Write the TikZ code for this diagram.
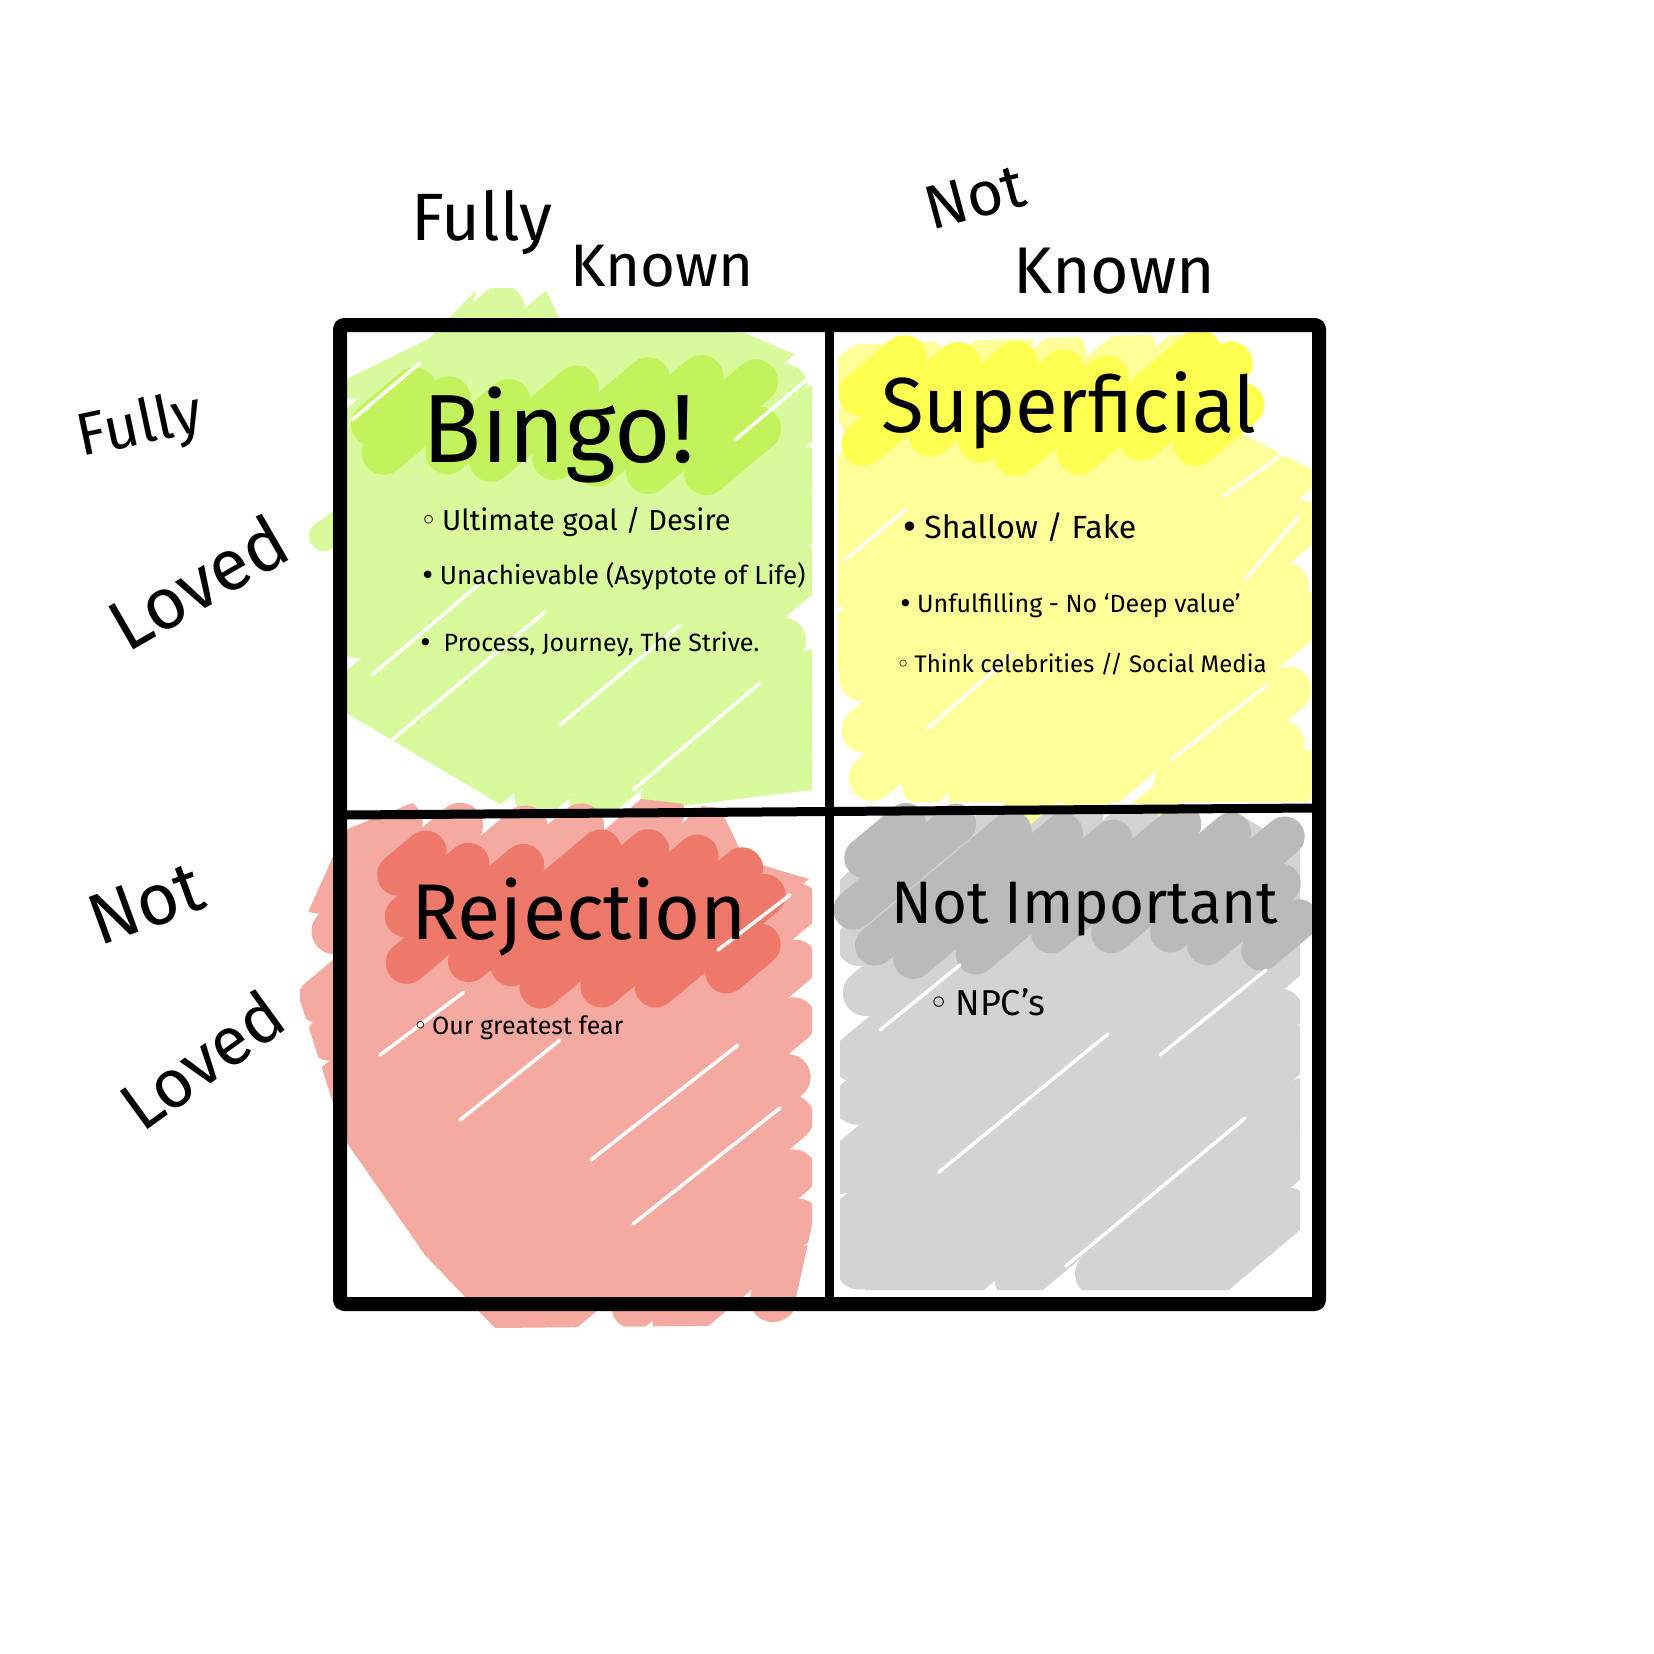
\documentclass[tikz,border=0pt]{standalone}
\usepackage{fontspec}
\setmainfont{Fira Sans}
\newfontfamily\symfont{DejaVu Sans}
\definecolor{lgreen}{HTML}{D9FA9C}
\definecolor{bgreen}{HTML}{C3F35C}
\definecolor{lyellow}{HTML}{FFFF99}
\definecolor{byellow}{HTML}{FFFF4F}
\definecolor{lred}{HTML}{F4AAA0}
\definecolor{dred}{HTML}{EE786A}
\definecolor{lgray}{HTML}{D3D3D3}
\definecolor{dgray}{HTML}{BABABA}
% scribble: colour, xa, ya, xb, yb, width, spacing
\newcommand\scribble[7]{%
  \pgfmathsetmacro\sCmin{0.643*#2+0.766*#3+0.5*#7}%
  \pgfmathsetmacro\sCnext{\sCmin+#7}%
  \pgfmathsetmacro\sCmax{0.643*#4+0.766*#5}%
  \foreach \sC in {\sCmin,\sCnext,...,\sCmax}{%
    \pgfmathsetmacro\sD{\sC+rnd*8-4}%
    \pgfmathsetmacro\sXa{max(#2,(\sD-0.766*#5)/0.643)+rnd*34-17}%
    \pgfmathsetmacro\sYa{(\sD-0.643*\sXa)/0.766}%
    \pgfmathsetmacro\sXb{min(#4,(\sD-0.766*#3)/0.643)+rnd*34-17}%
    \pgfmathsetmacro\sYb{(\sD-0.643*\sXb)/0.766}%
    \pgfmathtruncatemacro\sOk{\sXb>\sXa+4}%
    \ifnum\sOk=1 \draw[#1,line width=#6,line cap=round] (\sXa,\sYa) -- (\sXb,\sYb);\fi
  }%
}
\begin{document}
\begin{tikzpicture}[x=1pt,y=-1pt,
  frameline/.style={line width=14pt,line join=round,rounded corners=4pt},
  divider/.style={line width=9pt,line cap=round},
  streak/.style={white,line width=3.5pt,line cap=round},
  axislabel/.style={inner sep=0pt,font=\fontsize{#1}{#1}\selectfont},
  qtitle/.style={inner sep=0pt,anchor=base west,font=\fontsize{#1}{#1}\selectfont},
  qitem/.style={inner sep=0pt,anchor=base west,font=\fontsize{#1}{#1}\selectfont}]
\pgfmathsetseed{4242}
\fill[white] (0,0) rectangle (1654,1654);
\useasboundingbox (0,0) rectangle (1654,1654);

% ---------- green (Bingo) ----------
\draw[lgreen,line width=30pt,line cap=round] (324,536) -- (360,512);
\begin{scope}
  \clip (345,380) -- (430,338) -- (478,288) -- (545,288) -- (560,320) -- (745,333) -- (812,362)
        -- (812,790) -- (600,816) -- (520,816) -- (345,712) -- cycle;
  \scribble{lgreen}{355}{300}{800}{800}{46pt}{40}
\end{scope}
\scribble{bgreen}{380}{390}{776}{460}{44pt}{36}
\draw[streak] (372,675) -- (496,570);
\draw[streak] (380,750) -- (545,612);
\draw[streak] (633,790) -- (760,683);
\draw[streak] (735,440) -- (810,377);
\draw[streak] (560,725) -- (680,625);
\draw[streak] (352,420) -- (420,363);

% ---------- yellow (Superficial) ----------
\scribble{lyellow}{1010}{795}{1160}{830}{34pt}{40}
\begin{scope}
  \clip (838,345) -- (1200,333) -- (1215,420) -- (1313,470) -- (1313,802) -- (838,802) -- cycle;
  \scribble{lyellow}{850}{350}{1295}{792}{46pt}{40}
\end{scope}
\scribble{byellow}{872}{364}{1228}{448}{44pt}{36}
\draw[streak] (928,728) -- (1013,654);
\draw[streak] (1171,760) -- (1266,686);
\draw[streak] (1245,580) -- (1298,517);
\draw[streak] (1224,496) -- (1298,443);
\draw[streak] (845,560) -- (905,510);

% ---------- red (Rejection) ----------
\begin{scope}
  \clip (300,930) -- (345,830) -- (420,800) -- (590,793) -- (720,808) -- (745,860)
        -- (812,880) -- (812,1225) -- (790,1325) -- (495,1328) -- (425,1255)
        -- (345,1140) -- (300,1000) -- cycle;
  \scribble{lred}{318}{815}{800}{1310}{46pt}{40}
\end{scope}
\scribble{dred}{392}{856}{765}{975}{42pt}{36}
\draw[streak] (380,1055) -- (464,992);
\draw[streak] (591,1160) -- (738,1045);
\draw[streak] (633,1224) -- (780,1108);
\draw[streak] (718,950) -- (790,895);
\draw[streak] (460,1120) -- (560,1040);

% ---------- gray (Not Important) ----------
\begin{scope}
  \clip (840,880) -- (905,815) -- (1235,812) -- (1300,850) -- (1300,1290) -- (840,1290) -- cycle;
  \scribble{lgray}{850}{825}{1290}{1280}{46pt}{40}
\end{scope}
\scribble{dgray}{860}{836}{1285}{945}{40pt}{36}
\draw[streak] (939,1172) -- (1108,1034);
\draw[streak] (1066,1266) -- (1245,1118);
\draw[streak] (1160,1055) -- (1266,970);
\draw[streak] (880,1030) -- (960,965);

% ---------- grid ----------
\coordinate (tl) at (340,325);
\coordinate (br) at (1319,1304);
\coordinate (vtop) at (829,325);
\coordinate (vbot) at (829,1304);
\coordinate (hleft) at (345,815);
\coordinate (hright) at (1315,808);
\draw[divider] (vtop) -- (vbot);
\draw[divider] (hleft) -- (hright);
\draw[frameline] (tl) rectangle (br);

% ---------- axis labels ----------
\node[axislabel=67,anchor=base west] (fullyK) at (411,240) {Fully};
\node[axislabel=60,anchor=base west] (knownA) at (570,286) {Known};
\node[axislabel=62,rotate=15] (notK) at (975,197) {Not};
\node[axislabel=66,anchor=base west] (knownB) at (1013,293) {Known};
\node[axislabel=60,rotate=12] (fullyL) at (140,428) {Fully};
\node[axislabel=72,rotate=30] (lovedA) at (198,582) {Loved};
\node[axislabel=72,rotate=20] (notL) at (146,904) {Not};
\node[axislabel=68,rotate=36] (lovedB) at (202,1060) {Loved};

% ---------- quadrant titles ----------
\node[qtitle=97] (bingo) at (422,462) {Bingo!};
\node[qtitle=78] (superficial) at (881,432) {Superficial};
\node[qtitle=79] (rejection) at (411,939) {Rejection};
\node[qtitle=60] (notimportant) at (891,923) {Not Important};

% ---------- items ----------
\node[qitem=29] (i11) at (420,530) {{\symfont◦}\,Ultimate goal / Desire};
\node[qitem=26] (i12) at (420,584) {{\symfont•}\,Unachievable (Asyptote of Life)};
\node[qitem=25] (i13) at (418,651) {{\symfont•}\ \,Process, Journey, The Strive.};

\node[qitem=32] (i21) at (900,538) {{\symfont•}\,Shallow / Fake};
\node[qitem=25] (i22) at (898,612) {{\symfont•}\,Unfulfilling - No ‘Deep value’};
\node[qitem=24] (i23) at (896,672) {{\symfont◦}\,Think celebrities // Social Media};

\node[qitem=25] (i31) at (413,1034) {{\symfont◦}\,Our greatest fear};

\node[qitem=36] (i41) at (928,1015) {{\symfont◦}\,NPC’s};
\end{tikzpicture}
\end{document}
